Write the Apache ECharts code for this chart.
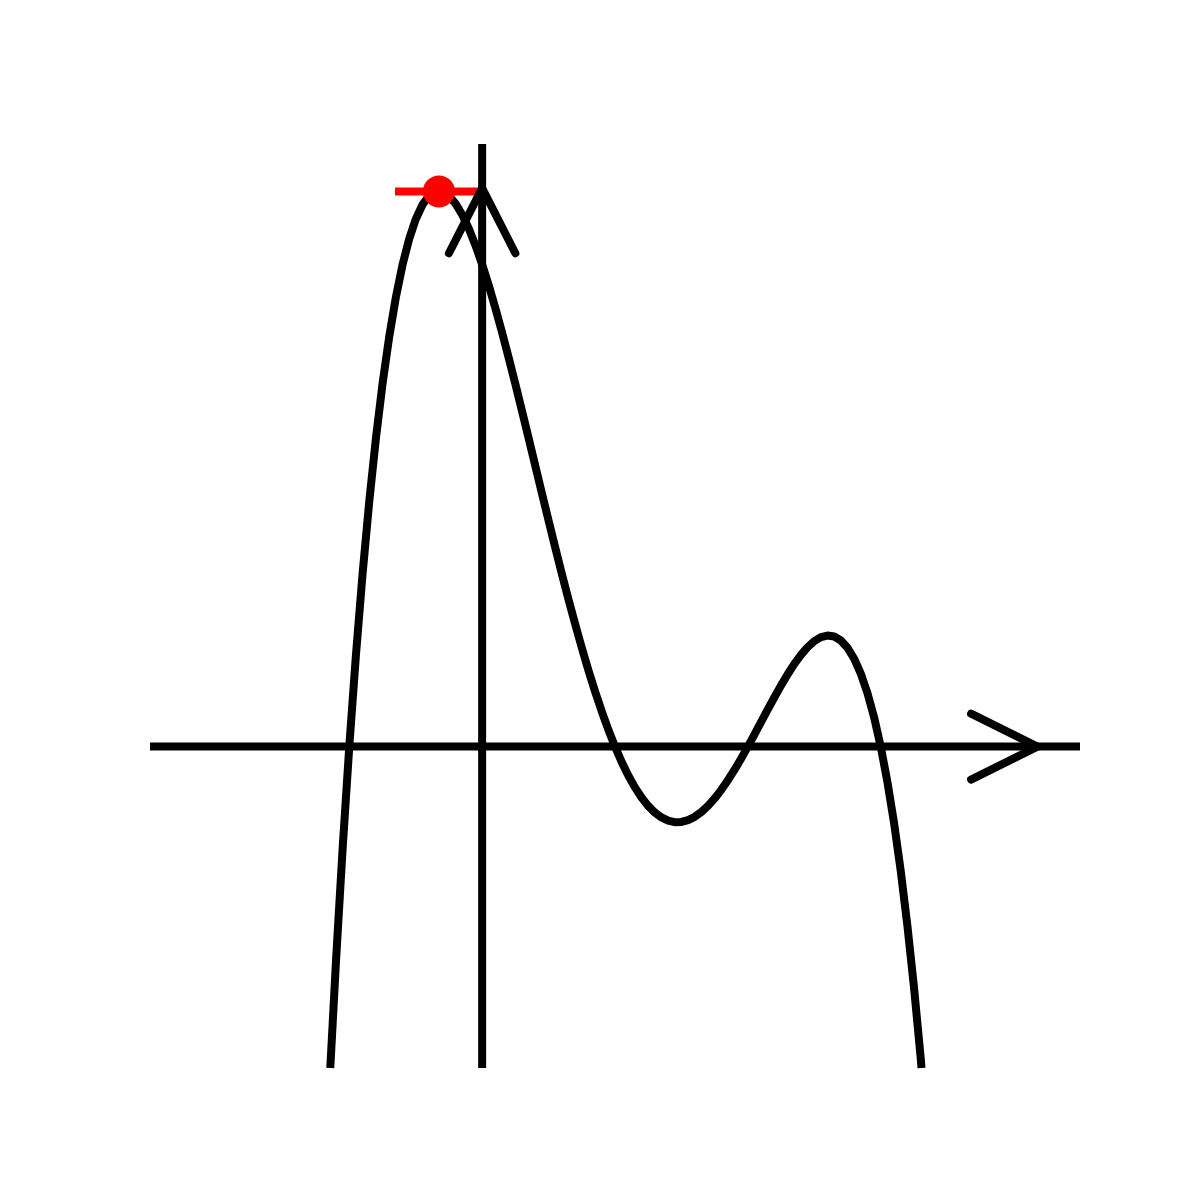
<!DOCTYPE html>
<html>
<head>
<meta charset="utf-8">
<script src="https://cdn.jsdelivr.net/npm/echarts@6/dist/echarts.min.js"></script>
<style>
html,body{margin:0;padding:0;background:#fff;}
#chart{width:1200px;height:1200px;}
</style>
</head>
<body>
<div id="chart"></div>
<script>
// Curve samples (ends where the curve leaves the bottom edge)
var curveX = [-1.143,-1.10,-1.05,-1.00,-0.95,-0.90,-0.85,-0.80,-0.75,-0.70,-0.65,-0.60,-0.55,-0.50,-0.45,-0.40,-0.35,-0.30,-0.25,-0.20,-0.15,-0.10,-0.05,0.00,
  0.05,0.10,0.15,0.20,0.25,0.30,0.35,0.40,0.45,0.50,0.55,0.60,0.65,0.70,0.75,0.80,0.85,0.90,0.95,1.00,
  1.05,1.10,1.15,1.20,1.25,1.30,1.35,1.40,1.45,1.50,1.55,1.60,1.65,1.70,1.75,1.80,1.85,1.90,1.95,2.00,
  2.05,2.10,2.15,2.20,2.25,2.30,2.35,2.40,2.45,2.50,2.55,2.60,2.65,2.70,2.75,2.80,2.85,2.90,2.95,3.00,
  3.05,3.10,3.15,3.20,3.25,3.30,3.307];
var curveY = [-4.0,-2.669,-1.266,0,1.136,2.149,3.045,3.830,4.512,5.095,5.586,5.990,6.314,6.563,6.741,6.854,6.908,6.907,6.855,6.758,6.620,6.445,6.237,6.000,
  5.738,5.455,5.154,4.838,4.512,4.177,3.837,3.494,3.152,2.813,2.478,2.150,1.832,1.525,1.230,0.950,0.686,0.439,0.210,0,
  -0.190,-0.359,-0.507,-0.634,-0.738,-0.821,-0.882,-0.922,-0.940,-0.938,-0.915,-0.874,-0.814,-0.737,-0.645,-0.538,-0.418,-0.287,-0.147,0,
  0.152,0.307,0.462,0.614,0.762,0.901,1.029,1.142,1.238,1.313,1.362,1.382,1.370,1.321,1.230,1.094,0.908,0.667,0.366,0,
  -0.436,-0.947,-1.539,-2.218,-2.988,-3.857,-4.0];

// Axis extents
var xRange = [-2.5, 4.5];
var yRange = [-4, 7.5];

// Arrow heads (data coordinates)
var xArrowX = [3.68, 4.18, 3.68];
var xArrowY = [0.41, 0, -0.41];
var yArrowX = [-0.25, 0, 0.25];
var yArrowY = [6.14, 6.95, 6.14];

// Maximum point and its tangent segment
var peakX = -0.325;
var peakY = 6.91;
var tangentX = [-0.656, 0.0];

function pairs(xs, ys) { return xs.map(function (x, i) { return [x, ys[i]]; }); }

var LW = 8;
var black = '#000000';
var red = '#ff0000';

function lineSeries(data, color, cap, z) {
  return {
    type: 'line', data: data, showSymbol: false, symbol: 'none', silent: true,
    animation: false, clip: false, z: z,
    lineStyle: { color: color, width: LW, cap: cap || 'butt', join: 'round', opacity: 1 }
  };
}

var chart = echarts.init(document.getElementById('chart'), null, { renderer: 'canvas' });
chart.setOption({
  animation: false,
  backgroundColor: '#ffffff',
  grid: { left: 150, right: 120, top: 144, bottom: 132, containLabel: false },
  xAxis: { type: 'value', min: xRange[0], max: xRange[1], show: false },
  yAxis: { type: 'value', min: yRange[0], max: yRange[1], show: false },
  series: [
    lineSeries(pairs(curveX, curveY), black, 'butt', 2),
    lineSeries([[tangentX[0], peakY], [tangentX[1], peakY]], red, 'butt', 3),
    lineSeries([[xRange[0], 0], [xRange[1], 0]], black, 'butt', 4),
    lineSeries([[0, yRange[0]], [0, yRange[1]]], black, 'butt', 4),
    lineSeries(pairs(xArrowX, xArrowY), black, 'round', 5),
    lineSeries(pairs(yArrowX, yArrowY), black, 'round', 5),
    {
      type: 'scatter', data: [[peakX, peakY]], symbol: 'circle', symbolSize: 32,
      silent: true, animation: false, z: 6,
      itemStyle: { color: red, opacity: 1 }
    }
  ]
});
</script>
</body>
</html>
